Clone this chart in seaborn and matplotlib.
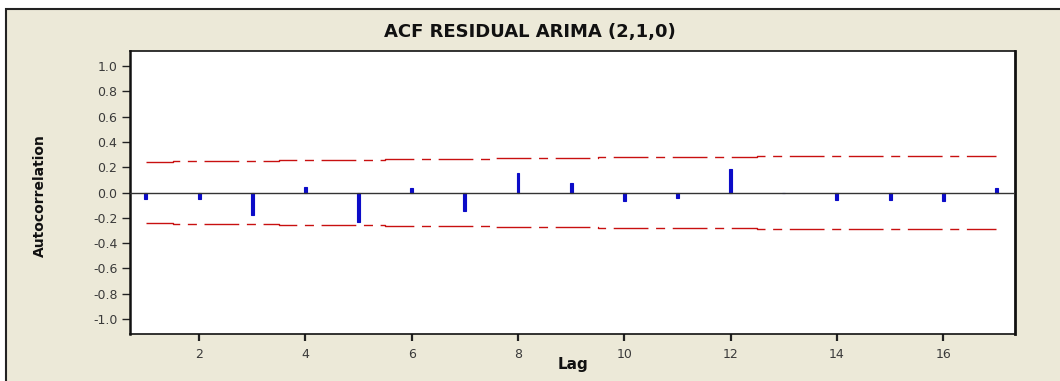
import numpy as np
import pandas as pd
import seaborn as sns
import matplotlib
matplotlib.use("Agg")
import matplotlib.pyplot as plt
from matplotlib.patches import Rectangle

# ---- data ----
lags = [1, 2, 3, 4, 5, 6, 7, 8, 9, 10, 11, 12, 13, 14, 15, 16, 17]
acf = [-0.053, -0.053, -0.180, 0.045, -0.237, 0.037, -0.148, 0.155, 0.076,
       -0.066, -0.045, 0.184, -0.004, -0.058, -0.058, -0.066, 0.037]
upper_limit = [0.245, 0.246, 0.246, 0.254, 0.255, 0.267, 0.268, 0.271, 0.277,
               0.278, 0.279, 0.279, 0.285, 0.285, 0.286, 0.286, 0.287]
lower_limit = [-v for v in upper_limit]
y_ticks = [-1.0, -0.8, -0.6, -0.4, -0.2, 0.0, 0.2, 0.4, 0.6, 0.8, 1.0]
x_ticks = [2, 4, 6, 8, 10, 12, 14, 16]
title = "ACF RESIDUAL ARIMA (2,1,0)"
xlabel = "Lag"
ylabel = "Autocorrelation"

sns.set_theme(style="white")
plt.rcParams["font.family"] = ["DejaVu Sans"]
plt.rcParams["lines.scale_dashes"] = False

W, H = 1060, 381
fig = plt.figure(figsize=(W / 100, H / 100), dpi=100, facecolor="white")

# window-like beige panel with dark border
panel = Rectangle((6 / W, -0.1), 1.2, 1 - 9 / H + 0.1, transform=fig.transFigure,
                  facecolor="#ECE9D8", edgecolor="#222222", linewidth=1.5, zorder=-5)
fig.patches.append(panel)

ax = fig.add_axes([130 / W, 1 - 334 / H, (1015 - 130) / W, (334 - 51) / H])
ax.set_zorder(2)
ax.set_facecolor("white")

df = pd.DataFrame({"lag": lags, "acf": acf})
sns.barplot(data=df, x="lag", y="acf", native_scale=True, width=0.055,
            color="#0C0CC8", saturation=1, ax=ax, zorder=3,
            edgecolor="#0C0CC8", linewidth=0.8)

lim = pd.DataFrame({"lag": lags, "up": upper_limit, "lo": lower_limit})
for col in ["up", "lo"]:
    sns.lineplot(data=lim, x="lag", y=col, color="#C81010", linewidth=1.0,
                 drawstyle="steps-mid", ax=ax, zorder=2)
for line in ax.get_lines():
    line.set_dashes([25, 5.5, 6.5, 5.5])

ax.axhline(0, color="#333333", linewidth=1.0, zorder=4)

ax.set_xlim(0.7, 17.35)
ax.set_ylim(-1.12, 1.12)
ax.set_yticks(y_ticks)
ax.set_yticklabels([f"{v:.1f}" for v in y_ticks])
ax.set_xticks(x_ticks)
ax.set_xticklabels([str(v) for v in x_ticks])
ax.tick_params(axis="both", direction="out", length=6, width=1, color="#222222",
               labelsize=9, labelcolor="#3A3A3A", pad=3, left=True, bottom=True)
ax.tick_params(axis="x", length=5, pad=5, width=1.6)

for s in ax.spines.values():
    s.set_visible(True)
    s.set_color("#111111")
    s.set_linewidth(1.2)
ax.spines["left"].set_linewidth(1.8)
ax.spines["right"].set_linewidth(2.0)

ax.set_xlabel("")
ax.set_ylabel("")
fig.text(0.5, 1 - 32 / H, title, ha="center", va="center", fontsize=13,
         fontweight="bold", color="#111111")
fig.text(573 / W, 1 - 364 / H, xlabel, ha="center", va="center", fontsize=11,
         fontweight="bold", color="#111111")
fig.text(40 / W, 1 - 196 / H, ylabel, ha="center", va="center", rotation=90,
         fontsize=10, fontweight="bold", color="#111111")

fig.savefig("out.png", dpi=100)
